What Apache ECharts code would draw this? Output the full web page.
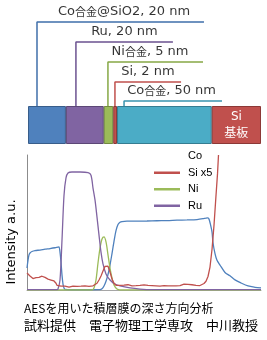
<!DOCTYPE html>
<html>
<head>
<meta charset="utf-8">
<script src="https://cdn.jsdelivr.net/npm/echarts@6/dist/echarts.min.js"></script>
<style>
html,body{margin:0;padding:0;background:#fff;}
#chart{width:267px;height:340px;}
</style>
</head>
<body>
<div id="chart"></div>
<script>
// ---- Layer stack (schematic thickness, nm; substrate drawn as schematic width) ----
const layerNames = ['Co合金@SiO2', 'Ru', 'Ni合金', 'Si', 'Co合金', 'Si基板'];
const layerThickness = [20, 20, 5, 2, 50, 26];
const layerLabels = ['Co合金@SiO2, 20 nm', 'Ru, 20 nm', 'Ni合金, 5 nm', 'Si, 2 nm', 'Co合金, 50 nm'];
// leader line: depth (nm) where it touches the stack, where it ends, where the label is centred, height level
const leaderStart = [4.75, 25.3, 42.2, 45.9, 50.7];
const leaderEnd = [92.9, 76.5, 92.4, 80.8, 102.4];
const leaderLabelAt = [50.7, 50.9, 64.4, 63.3, 75.8];
const leaderLevel = [84, 64, 44, 24, 5];

// ---- AES depth profile (depth index, intensity a.u.) ----
const seriesNames = ['Co', 'Si x5', 'Ni', 'Ru'];
const coData = [[0,16.3],[1,22],[2,26],[3,27.4],[5,28.5],[8,29.2],[13,29.6],[18,30.2],[23,30.7],[28,31.3],[31,31.8],[32,31.9],[33,28],[34,20.7],[35,11],[36,4.4],[37,1.5],[38,0.4],[45,0.2],[60,0.2],[73,0.3],[75,1],[77,3],[79,6.5],[81,11.5],[83,18.5],[85,27],[87,36],[89,44],[91,48.5],[93,50.2],[95,50.7],[100,51],[110,51],[120,51.1],[130,51.3],[140,51.4],[150,51.7],[160,51.9],[170,52.2],[176,52.8],[179,53.3],[181,53.4],[182,52.5],[183,50],[185,43],[186,35],[188,27],[190,22],[193,18.5],[198,13],[203,10.5],[208,7.5],[214,5.2],[221,3],[228,2],[234,1.5]];
const siData = [[0,12.6],[1,13.3],[2,12],[3,10.4],[4,9.2],[5,9.6],[6,8.5],[7,8.9],[8,8.5],[9,9.2],[10,9.8],[11,10],[12,9.4],[13,9.6],[14,8.6],[15,10.2],[16,9.5],[17,8.9],[18,9.3],[19,8.4],[20,8.8],[21,8.1],[22,7.5],[23,8],[24,7.4],[25,7],[26,6.8],[27,6.7],[28,6.2],[29,5],[30,3.5],[31,2.6],[32,2.4],[34,2.8],[36,2.2],[38,2.9],[40,2.4],[42,2.1],[44,2.6],[46,2.9],[48,2.3],[50,2.7],[52,2.2],[54,2.8],[56,2.5],[58,3],[60,2.4],[62,2.7],[64,2.3],[66,3.1],[68,3.6],[70,5],[72,7.4],[74,10.4],[76,14],[78,17.5],[79,18.5],[80,18.3],[81,17.6],[83,13.3],[85,8.1],[87,5],[89,3.5],[91,3],[93,3.4],[95,3.1],[97,3.6],[99,3.2],[101,3.9],[103,3.3],[105,3.1],[107,3.6],[109,3.2],[111,2.8],[113,3.4],[115,3.1],[117,3.8],[119,3.2],[121,3.5],[123,2.9],[125,3.3],[127,3.7],[129,3.1],[131,3.4],[133,2.9],[135,3.5],[137,3.2],[139,3.6],[141,3],[143,3.3],[145,3.1],[147,3.5],[149,3],[151,3.4],[153,3.2],[155,3.6],[157,4.3],[159,3.8],[161,4.1],[163,3.4],[165,3.9],[167,3.2],[169,3.5],[171,3.1],[173,3.3],[175,3.8],[177,4.8],[179,6.5],[181,10],[183,17],[185,30],[187,48],[189,70],[190.5,86],[191.5,100]];
const niData = [[0,0],[65,0],[67,1.5],[69,7.4],[71,20],[73,31],[75,37.8],[77,39.3],[79,35.6],[81,26],[83,16.3],[85,8.9],[87,3.7],[90,0.7],[93,0],[234,0]];
const ruData = [[0,0.3],[30,0.3],[31,0.7],[33,7.4],[35,37],[37,70],[39,83],[41,86.7],[45,87.4],[53,87.4],[61,87],[64,85],[66,75.5],[68,66.7],[70,54],[72,40.7],[74,28],[76,19.3],[79,11.9],[83,7.4],[88,4.4],[93,3],[103,1.5],[113,0.7],[125,0.3],[234,0.3]];

const captionLines = ['AESを用いた積層膜の深さ方向分析', '試料提供　電子物理工学専攻　中川教授'];
const yAxisTitle = 'Intensity a.u.';

const layerColors = ['#4F81BD', '#8064A2', '#9BBB59', '#C0504D', '#4BACC6', '#C0504D'];
const layerBorders = ['#385D8A', '#5C4776', '#71893F', '#8C3836', '#357D91', '#8C3836'];
const leaderColors = ['#3F6FAA', '#6B5290', '#86A845', '#C0504D', '#3A94AE'];
const curveColors = ['#4F81BD', '#C0504D', '#9BBB59', '#8064A2'];

const totalDepth = layerThickness.reduce((a, b) => a + b, 0);
const cjk = '"DejaVu Sans", "Noto Sans CJK JP", sans-serif';

const chart = echarts.init(document.getElementById('chart'), null, {renderer: 'canvas'});

const series = [];
// stack bars
layerNames.forEach((n, i) => {
  series.push({
    type: 'bar', name: 'layer:' + n, stack: 'layers', xAxisIndex: 0, yAxisIndex: 0,
    barWidth: '100%', silent: true,
    data: [layerThickness[i]],
    itemStyle: {color: layerColors[i], borderColor: layerBorders[i], borderWidth: 1},
    label: i === layerNames.length - 1 ? {
      show: true, position: 'inside', formatter: 'Si\n基板', color: '#fff',
      fontSize: 12, lineHeight: 17, fontFamily: cjk
    } : {show: false}
  });
});
// leader lines
layerLabels.forEach((t, i) => {
  series.push({
    type: 'line', name: 'leader' + i, xAxisIndex: 1, yAxisIndex: 1, silent: true,
    symbol: 'none',
    data: [[leaderStart[i], 0], [leaderStart[i], leaderLevel[i]], [leaderEnd[i], leaderLevel[i]]],
    lineStyle: {color: leaderColors[i], width: 1.5}, z: 1
  });
});
// leader labels
series.push({
  type: 'scatter', name: 'leaderLabels', xAxisIndex: 1, yAxisIndex: 1, silent: true,
  symbol: 'circle', symbolSize: 1, itemStyle: {color: 'rgba(0,0,0,0)'},
  data: layerLabels.map((t, i) => ({value: [leaderLabelAt[i], leaderLevel[i]], name: t})),
  label: {
    show: true, position: 'top', distance: 2, color: '#000', fontSize: 13, lineHeight: 15,
    fontFamily: '"DejaVu Sans", sans-serif',
    formatter: p => p.name.replace(/([\u3000-\u9fff]+)/g, '{c|$1}'),
    rich: {c: {fontSize: 11, lineHeight: 15, color: '#000', fontFamily: '"Noto Sans CJK JP", sans-serif'}}
  },
  z: 2
});
// profile curves
const profiles = [coData, siData, niData, ruData];
profiles.forEach((d, i) => {
  series.push({
    type: 'line', name: seriesNames[i], xAxisIndex: 2, yAxisIndex: 2,
    symbol: 'none', showSymbol: false, smooth: i === 1 ? false : 0.3,
    data: d, lineStyle: {color: curveColors[i], width: 1.3}, itemStyle: {color: curveColors[i]},
    clip: true, z: i === 1 ? 5 : 3
  });
});

chart.setOption({
  animation: false,
  backgroundColor: '#fff',
  grid: [
    {left: 28, right: 6, top: 106, height: 38},
    {left: 28, right: 6, top: 0, height: 106},
    {left: 27, right: 6, top: 155, bottom: 50}
  ],
  xAxis: [
    {gridIndex: 0, type: 'value', min: 0, max: totalDepth, show: false},
    {gridIndex: 1, type: 'value', min: 0, max: totalDepth, show: false},
    {gridIndex: 2, type: 'value', min: 0, max: 234, axisLabel: {show: false}, axisTick: {show: false},
     splitLine: {show: false}, axisLine: {lineStyle: {color: '#A6A6A6', width: 1}}}
  ],
  yAxis: [
    {gridIndex: 0, type: 'category', data: ['stack'], show: false},
    {gridIndex: 1, type: 'value', min: 0, max: 106, show: false},
    {gridIndex: 2, type: 'value', min: 0, max: 100, axisLabel: {show: false}, axisTick: {show: false},
     splitLine: {show: false}, axisLine: {show: true, lineStyle: {color: '#8C8C8C', width: 1}}}
  ],
  legend: {
    orient: 'vertical', left: 149, top: 145, itemWidth: 26, itemHeight: 2.5, itemGap: 4,
    icon: 'rect',
    data: [
      {name: 'Co', itemStyle: {opacity: 0}},
      'Si x5', 'Ni', 'Ru'
    ],
    textStyle: {color: '#000', fontSize: 11, lineHeight: 12.5, fontFamily: '"Liberation Sans", Arial, sans-serif', padding: [0, 0, 0, 3]},
    selectedMode: false
  },
  title: {
    text: captionLines[0], subtext: captionLines[1], left: 24, top: 300, itemGap: 1, padding: 0,
    textStyle: {color: '#000', fontSize: 12, fontWeight: 'normal', lineHeight: 16, fontFamily: '"Noto Sans CJK JP", sans-serif'},
    subtextStyle: {color: '#000', fontSize: 13, lineHeight: 16, fontFamily: '"Noto Sans CJK JP", sans-serif'}
  },
  graphic: [
    {type: 'text', x: 12, y: 242, rotation: Math.PI / 2,
     style: {text: yAxisTitle, fill: '#000', font: '13px "DejaVu Sans", sans-serif', textAlign: 'center', textVerticalAlign: 'middle'}}
  ],
  series: series
});
</script>
</body>
</html>
